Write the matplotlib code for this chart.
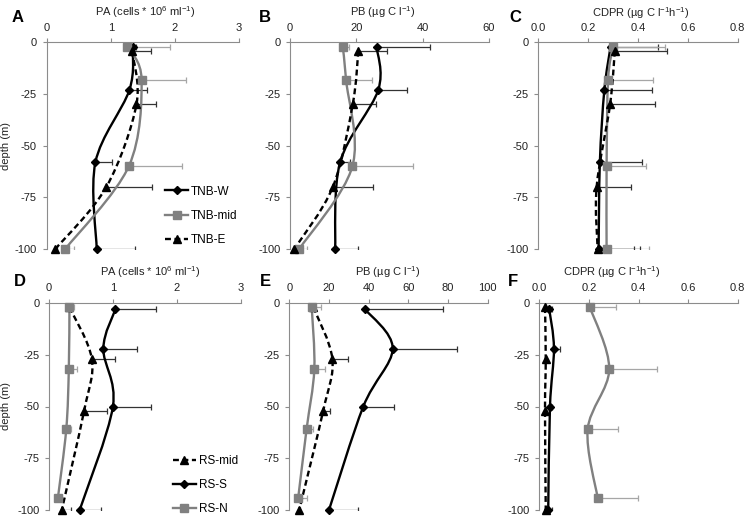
import numpy as np
import matplotlib
matplotlib.use("Agg")
import matplotlib.pyplot as plt
from matplotlib.path import Path
from matplotlib.patches import PathPatch
from matplotlib.lines import Line2D

plt.rcParams['font.family'] = ['Liberation Sans', 'DejaVu Sans']
plt.rcParams['mathtext.fontset'] = 'custom'
plt.rcParams['mathtext.rm'] = 'Liberation Sans'
plt.rcParams['mathtext.it'] = 'Liberation Sans:italic'

# --- data: TNB stations (top row) ---
tnb_names = ['TNB-W', 'TNB-mid', 'TNB-E']
tnb_depth = {
    'TNB-W':   [-2, -23, -58, -100],
    'TNB-mid': [-2, -18, -60, -100],
    'TNB-E':   [-4, -30, -70, -100],
}
tnb_pa = {
    'TNB-W':   [1.34, 1.29, 0.76, 0.78],
    'TNB-mid': [1.26, 1.48, 1.28, 0.29],
    'TNB-E':   [1.33, 1.40, 0.93, 0.135],
}
tnb_pa_err = {
    'TNB-W':   [0.05, 0.28, 0.26, 0.60],
    'TNB-mid': [0.66, 0.69, 0.83, 0.14],
    'TNB-E':   [0.29, 0.30, 0.72, 0.02],
}
tnb_pb = {
    'TNB-W':   [26.1, 26.6, 15.1, 13.6],
    'TNB-mid': [15.9, 16.9, 18.8, 2.8],
    'TNB-E':   [20.6, 18.9, 12.9, 1.3],
}
tnb_pb_err = {
    'TNB-W':   [16.1, 8.8, 3.0, 6.8],
    'TNB-mid': [2.0, 7.7, 18.2, 2.2],
    'TNB-E':   [8.7, 7.0, 12.0, 0.5],
}
tnb_cdpr = {
    'TNB-W':   [0.29, 0.265, 0.247, 0.242],
    'TNB-mid': [0.30, 0.28, 0.274, 0.274],
    'TNB-E':   [0.307, 0.288, 0.234, 0.238],
}
tnb_cdpr_err = {
    'TNB-W':   [0.19, 0.19, 0.17, 0.14],
    'TNB-mid': [0.21, 0.18, 0.157, 0.17],
    'TNB-E':   [0.21, 0.18, 0.136, 0.17],
}

# --- data: RS stations (bottom row) ---
rs_names = ['RS-mid', 'RS-S', 'RS-N']
rs_depth = {
    'RS-S':   [-3, -22, -50, -100],
    'RS-mid': [-2, -27, -52, -100],
    'RS-N':   [-2, -32, -61, -94],
}
rs_pa = {
    'RS-S':   [1.04, 0.85, 1.00, 0.48],
    'RS-mid': [0.32, 0.67, 0.55, 0.20],
    'RS-N':   [0.32, 0.31, 0.27, 0.14],
}
rs_pa_err = {
    'RS-S':   [0.64, 0.53, 0.59, 0.33],
    'RS-mid': [0.02, 0.37, 0.36, 0.14],
    'RS-N':   [0.07, 0.13, 0.08, 0.07],
}
rs_pb = {
    'RS-S':   [38.2, 52.1, 37.3, 20.0],
    'RS-mid': [12.1, 21.7, 17.1, 5.0],
    'RS-N':   [11.3, 12.6, 8.7, 4.5],
}
rs_pb_err = {
    'RS-S':   [39.1, 32.3, 15.5, 14.5],
    'RS-mid': [0.5, 8.0, 3.4, 0.5],
    'RS-N':   [4.7, 5.4, 3.4, 4.2],
}
rs_cdpr = {
    'RS-S':   [0.040, 0.059, 0.043, 0.036],
    'RS-mid': [0.023, 0.026, 0.023, 0.026],
    'RS-N':   [0.204, 0.282, 0.195, 0.235],
}
rs_cdpr_err = {
    'RS-S':   [0.012, 0.024, 0.008, 0.016],
    'RS-mid': [0.003, 0.003, 0.003, 0.003],
    'RS-N':   [0.106, 0.191, 0.124, 0.162],
}

depth_ticks = [0, -25, -50, -75, -100]

# series styles: W/S black diamonds, mid/N grey squares, E/mid dashed triangles
BLACK_SOLID = dict(color='black', ls='-', marker='D', ms=4.5, err='#333333')
GREY_SOLID = dict(color='#808080', ls='-', marker='s', ms=6, err='#a6a6a6')
BLACK_DASH = dict(color='black', ls=(0, (2.5, 1.5)), marker='^', ms=6, err='#333333')
styles = {
    'TNB-W': BLACK_SOLID, 'TNB-mid': GREY_SOLID, 'TNB-E': BLACK_DASH,
    'RS-S': BLACK_SOLID, 'RS-N': GREY_SOLID, 'RS-mid': BLACK_DASH,
}

fig = plt.figure(figsize=(7.53, 5.21), dpi=100)
W, H = 753, 521


def add_axes(l, r, t, b):
    return fig.add_axes([l / W, 1 - b / H, (r - l) / W, (b - t) / H])


def smooth_line(ax, x, y, color, ls, lw=1.7, z=2):
    # Excel-like smoothed line: Catmull-Rom converted to Bezier in screen space
    pts = ax.transData.transform(np.column_stack([x, y]))
    n = len(pts)
    verts = [pts[0]]
    codes = [Path.MOVETO]
    for i in range(n - 1):
        p0 = pts[i - 1] if i > 0 else pts[i]
        p1 = pts[i]
        p2 = pts[i + 1]
        p3 = pts[i + 2] if i + 2 < n else pts[i + 1]
        verts += [p1 + (p2 - p0) / 6, p2 - (p3 - p1) / 6, p2]
        codes += [Path.CURVE4] * 3
    verts = ax.transData.inverted().transform(np.array(verts))
    ax.add_patch(PathPatch(Path(verts, codes), fill=False, edgecolor=color,
                           lw=lw, ls=ls, zorder=z))


def panel(ax, names, depth, vals, errs, xmax, xticks, fmt):
    ax.set_xlim(0, xmax)
    ax.set_ylim(-100, 0)
    ax.xaxis.tick_top()
    ax.set_xticks(xticks)
    ax.set_xticklabels([fmt.format(v) for v in xticks])
    ax.set_yticks(depth_ticks)
    ax.set_yticklabels([str(d) for d in depth_ticks])
    for s in ['right', 'bottom']:
        ax.spines[s].set_visible(False)
    for s in ['top', 'left']:
        ax.spines[s].set_color('#8c8c8c')
        ax.spines[s].set_linewidth(0.8)
    ax.tick_params(axis='both', length=3, width=0.8, color='#8c8c8c',
                   labelsize=8, labelcolor='#222222', pad=4)
    for nm in names:
        st = styles[nm]
        x = np.array(vals[nm])
        y = np.array(depth[nm])
        e = np.array(errs[nm])
        ax.errorbar(x, y, xerr=[np.zeros_like(e), e], fmt='none',
                    ecolor=st['err'], elinewidth=0.9, capsize=2.5,
                    capthick=0.9, zorder=1)
        smooth_line(ax, x, y, st['color'], st['ls'])
        ax.plot(x, y, ls='none', marker=st['marker'], ms=st['ms'],
                color=st['color'], zorder=3, clip_on=False)


def add_legend(ax, names, anchor):
    handles = [Line2D([], [], color=styles[nm]['color'], ls=styles[nm]['ls'],
                      lw=1.7, marker=styles[nm]['marker'],
                      ms=styles[nm]['ms'] * 0.85) for nm in names]
    ax.legend(handles, names, loc='upper left', bbox_to_anchor=anchor,
              frameon=False, fontsize=8.5, handlelength=2.0, handletextpad=0.2,
              labelspacing=1.05, borderaxespad=0)


axA = add_axes(46.7, 239, 42.5, 249)
axB = add_axes(290, 489, 42.5, 249)
axC = add_axes(538.3, 737.7, 42.5, 249)
axD = add_axes(49, 240.7, 303, 510)
axE = add_axes(289.3, 487.7, 303, 510)
axF = add_axes(539.3, 737.7, 303, 510)

panel(axA, tnb_names, tnb_depth, tnb_pa, tnb_pa_err, 3, [0, 1, 2, 3], '{:g}')
panel(axB, tnb_names, tnb_depth, tnb_pb, tnb_pb_err, 60, [0, 20, 40, 60], '{:g}')
panel(axC, tnb_names, tnb_depth, tnb_cdpr, tnb_cdpr_err, 0.8,
      [0, 0.2, 0.4, 0.6, 0.8], '{:.1f}')
panel(axD, rs_names, rs_depth, rs_pa, rs_pa_err, 3, [0, 1, 2, 3], '{:g}')
panel(axE, rs_names, rs_depth, rs_pb, rs_pb_err, 100,
      [0, 20, 40, 60, 80, 100], '{:g}')
panel(axF, rs_names, rs_depth, rs_cdpr, rs_cdpr_err, 0.8,
      [0, 0.2, 0.4, 0.6, 0.8], '{:.1f}')

add_legend(axA, tnb_names, (0.59, 0.33))
add_legend(axD, rs_names, (0.62, 0.29))

for ax, x0 in ((axA, 46.7), (axD, 49)):
    ax.set_ylabel('depth (m)', fontsize=8, color='#222222')
    ax.yaxis.set_label_coords((11 - x0) / 192.3, 0.5)

# axis titles above tick labels
pa_lbl = 'PA (cells * 10$^{6}$ ml$^{-1}$)'
pb_lbl = 'PB (\u00b5g C l$^{-1}$)'
cd_lbl = 'CDPR (\u00b5g C l$^{-1}$h$^{-1}$)'
titles = [(pa_lbl, 145, 12), (pb_lbl, 383, 12), (cd_lbl, 641, 13),
          (pa_lbl, 150, 272), (pb_lbl, 388, 272), (cd_lbl, 612, 272)]
for txt, x, y in titles:
    fig.text(x / W, 1 - y / H, txt, ha='center', va='center', fontsize=8,
             color='#222222')

letters = [('A', 18, 18), ('B', 265, 18), ('C', 515, 18),
           ('D', 20, 281), ('E', 265, 282), ('F', 513, 282)]
for txt, x, y in letters:
    fig.text(x / W, 1 - y / H, txt, ha='center', va='center', fontsize=12,
             fontweight='bold')

fig.savefig('out.png', dpi=100)
